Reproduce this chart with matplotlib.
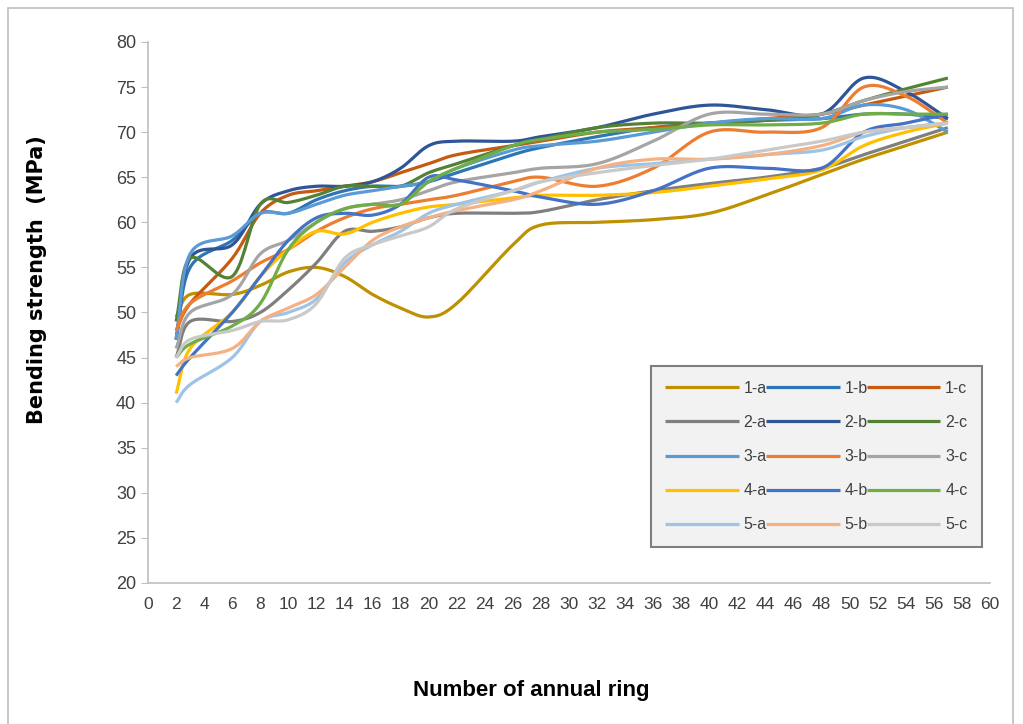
import numpy as np
import matplotlib
matplotlib.use('Agg')
import matplotlib.pyplot as plt
from matplotlib.patches import Rectangle

# ring numbers where values were read
rings = [2, 3, 6, 8, 10, 12, 14, 16, 18, 20, 22, 26, 28, 32, 36, 40, 44, 48, 51, 54, 57]

labels = ['1-a', '1-b', '1-c', '2-a', '2-b', '2-c', '3-a', '3-b', '3-c',
          '4-a', '4-b', '4-c', '5-a', '5-b', '5-c']
colors = ['#BF9000', '#2E75B6', '#C55A11', '#7F7F7F', '#2F5597', '#548235',
          '#5B9BD5', '#ED7D31', '#A5A5A5', '#FFC000', '#4472C4', '#70AD47',
          '#9DC3E6', '#F4B183', '#C9C9C9']

s_1a = [49.5, 52, 52, 53, 54.5, 55, 54, 52, 50.5, 49.5, 51, 57.5, 59.7, 60, 60.3, 61, 63, 65.3, 67, 68.5, 70]
s_1b = [47, 55, 58, 61, 61, 62.5, 63.5, 64, 64, 64.5, 65.5, 67.5, 68.3, 69.5, 70.5, 71, 71.3, 71.5, 72, 72, 71.5]
s_1c = [48, 51, 56, 61, 63, 63.5, 64, 64.5, 65.5, 66.5, 67.5, 68.5, 69, 70, 70.5, 71, 71.5, 72, 73, 74, 75]
s_2a = [45, 49, 49, 50, 52.5, 55.5, 59, 59, 59.5, 60.5, 61, 61, 61.2, 62.5, 63.5, 64.3, 65, 66, 67.5, 69, 70.5]
s_2b = [47, 56, 57.5, 62, 63.5, 64, 64, 64.5, 66, 68.5, 69, 69, 69.5, 70.5, 72, 73, 72.5, 72, 76, 74.5, 71.5]
s_2c = [49, 56, 54, 62, 62.2, 63, 64, 64, 64, 65.5, 66.5, 68.5, 69.2, 70.5, 71, 71, 71.3, 72, 73.5, 74.8, 76]
s_3a = [47, 56.5, 58.5, 61, 61, 62, 63, 63.5, 64, 64.5, 66, 68, 68.5, 69, 70, 71, 71.5, 71.5, 73, 72.5, 70]
s_3b = [48, 51, 53.5, 55.5, 57, 59, 60.5, 61.5, 62, 62.5, 63, 64.5, 65, 64, 66, 70, 70, 70.5, 75, 74, 71]
s_3c = [46, 50, 52, 56.5, 58, 60, 61.5, 62, 62.5, 63.5, 64.5, 65.5, 66, 66.5, 69, 72, 72, 72, 73.5, 74.5, 75]
s_4a = [41, 46, 50, 54, 57, 59, 58.7, 60, 61, 61.7, 62, 62.7, 63, 63, 63.3, 64, 64.8, 65.8, 68.5, 70, 71]
s_4b = [43, 45, 50, 54, 58, 60.5, 61, 60.8, 62, 65, 64.7, 63.5, 62.8, 62, 63.5, 66, 66, 66, 70, 71, 72]
s_4c = [45, 46.5, 48.5, 51, 57, 60, 61.5, 62, 62, 64.5, 66, 68.5, 69.2, 70, 70.3, 70.8, 70.8, 71, 72, 72, 72]
s_5a = [40, 42, 45, 49, 50, 51.5, 55.5, 57.5, 59, 61, 62, 63.5, 64.5, 66, 66.5, 67, 67.5, 68, 69.5, 70.5, 71]
s_5b = [44, 45, 46, 49, 50.5, 52, 55, 58, 59.5, 60.5, 61.3, 62.5, 63.5, 66, 67, 67, 67.5, 68.5, 70, 70.5, 71]
s_5c = [45, 47, 48, 49, 49.2, 51, 56, 57.5, 58.5, 59.5, 61.5, 63.5, 64.5, 65.5, 66.3, 67, 68, 69, 70, 70.5, 71]

series = [s_1a, s_1b, s_1c, s_2a, s_2b, s_2c, s_3a, s_3b, s_3c,
          s_4a, s_4b, s_4c, s_5a, s_5b, s_5c]


def smooth(x, y, n=20):
    # Catmull-Rom through the points, like Excel's smoothed line
    x = np.asarray(x, float)
    y = np.asarray(y, float)
    px = np.concatenate([[2 * x[0] - x[1]], x, [2 * x[-1] - x[-2]]])
    py = np.concatenate([[2 * y[0] - y[1]], y, [2 * y[-1] - y[-2]]])
    t = np.linspace(0, 1, n, endpoint=False)
    outx, outy = [], []
    for i in range(1, len(px) - 2):
        for arr, out in ((px, outx), (py, outy)):
            p0, p1, p2, p3 = arr[i - 1], arr[i], arr[i + 1], arr[i + 2]
            out.extend(0.5 * ((2 * p1) + (-p0 + p2) * t
                              + (2 * p0 - 5 * p1 + 4 * p2 - p3) * t ** 2
                              + (-p0 + 3 * p1 - 3 * p2 + p3) * t ** 3))
    outx.append(x[-1])
    outy.append(y[-1])
    return np.array(outx), np.array(outy)


plt.rcParams['font.family'] = ['Liberation Sans', 'DejaVu Sans']

fig = plt.figure(figsize=(10.23, 7.24), dpi=100)
fig.patches.append(Rectangle((8 / 1023, -0.1), 1005 / 1023, 1.1 - 8 / 724,
                             transform=fig.transFigure, fill=False,
                             edgecolor='#BFBFBF', linewidth=1.2))
ax = fig.add_axes([0.1447, 0.1948, 0.8230, 0.7472])

handles = []
for lab, col, ys in zip(labels, colors, series):
    sx, sy = smooth(rings, ys)
    h, = ax.plot(sx, sy, color=col, linewidth=2.3, label=lab, solid_capstyle='butt')
    handles.append(h)

ax.set_xlim(0, 60)
ax.set_ylim(20, 80)
ax.set_xticks(np.arange(0, 61, 2))
ax.set_yticks(np.arange(20, 81, 5))
ax.tick_params(axis='x', length=0, labelsize=12.5, colors='#404040', pad=10)
ax.tick_params(axis='y', length=5, labelsize=13, colors='#404040', direction='out')
ax.tick_params(axis='y', color='#BFBFBF')
for s in ['top', 'right']:
    ax.spines[s].set_visible(False)
for s in ['left', 'bottom']:
    ax.spines[s].set_color('#BFBFBF')
    ax.spines[s].set_linewidth(1.2)

ax.set_ylabel('Bending strength  (MPa)', fontsize=15, fontweight='bold',
              family=['DejaVu Sans'])
ax.yaxis.set_label_coords(-0.12, 0.56)
ax.set_xlabel('Number of annual ring', fontsize=16, fontweight='bold')
ax.xaxis.set_label_coords(0.455, -0.18)

# legend filled row by row
order = [0, 3, 6, 9, 12, 1, 4, 7, 10, 13, 2, 5, 8, 11, 14]
leg = ax.legend([handles[i] for i in order], [labels[i] for i in order],
                ncol=3, loc='lower left', bbox_to_anchor=(0.588, 0.052, 0.412, 0.318),
                mode='expand', fontsize=11.5, handlelength=4.6, handletextpad=0.3,
                columnspacing=1.2, labelspacing=1.2, fancybox=False,
                framealpha=1, borderpad=0.9)
leg.get_frame().set_facecolor('#F2F2F2')
leg.get_frame().set_edgecolor('#7F7F7F')
leg.get_frame().set_linewidth(1.5)
for t in leg.get_texts():
    t.set_color('#404040')

fig.savefig('out.png', dpi=100)
